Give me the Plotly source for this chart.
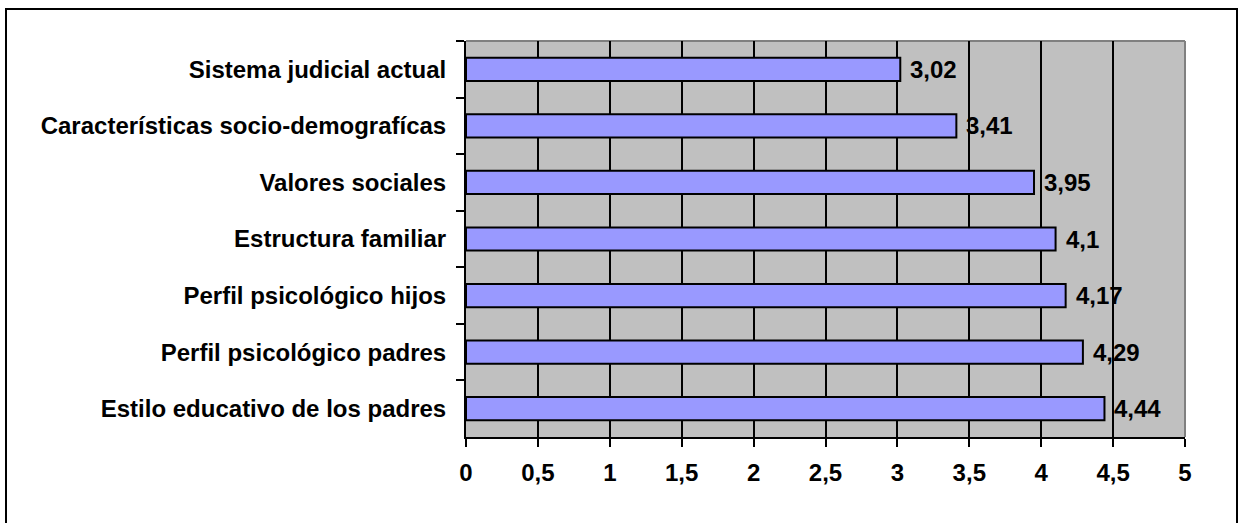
import plotly.graph_objects as go

# Factor names (top to bottom) and their mean scores
factores = [
    "Sistema judicial actual",
    "Características socio-demografícas",
    "Valores sociales",
    "Estructura familiar",
    "Perfil psicológico hijos",
    "Perfil psicológico padres",
    "Estilo educativo de los padres",
]
puntuaciones = [3.02, 3.41, 3.95, 4.1, 4.17, 4.29, 4.44]
etiquetas = ["3,02", "3,41", "3,95", "4,1", "4,17", "4,29", "4,44"]
x_ticks = [0, 0.5, 1, 1.5, 2, 2.5, 3, 3.5, 4, 4.5, 5]

W, H = 1240, 523
L, R, T, B = 466, 55, 41, 86
pw, ph = W - L - R, H - T - B

FONT = "Liberation Sans, Arial, sans-serif"
FS = 24

fig = go.Figure()
fig.add_trace(go.Bar(
    x=puntuaciones,
    y=factores,
    orientation="h",
    width=0.41,
    marker=dict(color="#9999FF", line=dict(color="#000000", width=2)),
    hoverinfo="skip",
))

for v, lab, cat in zip(puntuaciones, etiquetas, factores):
    fig.add_annotation(
        x=v, y=cat, text=lab, showarrow=False,
        xanchor="left", yanchor="middle", xshift=8, yshift=0,
        font=dict(family=FONT, size=FS, color="#000000", weight="bold"),
    )

def px_x(p):
    return (p - L) / pw

def px_y(p):
    return (H - B - p) / ph

shapes = [
    # outer chart frame
    dict(type="rect", xref="paper", yref="paper",
         x0=px_x(6), x1=px_x(1237), y0=px_y(560), y1=px_y(9),
         line=dict(color="#000000", width=2), fillcolor="rgba(0,0,0,0)", layer="above"),
    # plot area top and right edges
    dict(type="line", xref="paper", yref="paper", x0=0, x1=1, y0=1, y1=1,
         line=dict(color="#808080", width=2), layer="below"),
    dict(type="line", xref="paper", yref="paper", x0=1, x1=1, y0=0, y1=1,
         line=dict(color="#808080", width=2), layer="below"),
]
fig.update_layout(shapes=shapes)

fig.update_layout(
    width=W, height=H,
    margin=dict(l=L, r=R, t=T, b=B, pad=0),
    paper_bgcolor="#FFFFFF",
    plot_bgcolor="#C0C0C0",
    separators=",.",
    showlegend=False,
    bargap=0.59,
    font=dict(family=FONT, size=FS, color="#000000"),
    xaxis=dict(
        range=[0, 5], tickvals=x_ticks, fixedrange=True,
        showgrid=True, gridcolor="#000000", gridwidth=2,
        zeroline=False,
        showline=True, linecolor="#000000", linewidth=2,
        ticks="outside", ticklen=8, tickwidth=2, tickcolor="#000000",
        ticklabelstandoff=5,
        tickfont=dict(family=FONT, size=FS, color="#000000", weight="bold"),
    ),
    yaxis=dict(
        autorange="reversed", type="category", fixedrange=True,
        showgrid=False, zeroline=False,
        showline=True, linecolor="#000000", linewidth=2,
        ticks="outside", ticklen=8, tickwidth=2, tickcolor="#000000",
        tickson="boundaries",
        ticklabelstandoff=13,
        tickfont=dict(family=FONT, size=FS, color="#000000", weight="bold"),
    ),
)

fig.write_html("out.html")
